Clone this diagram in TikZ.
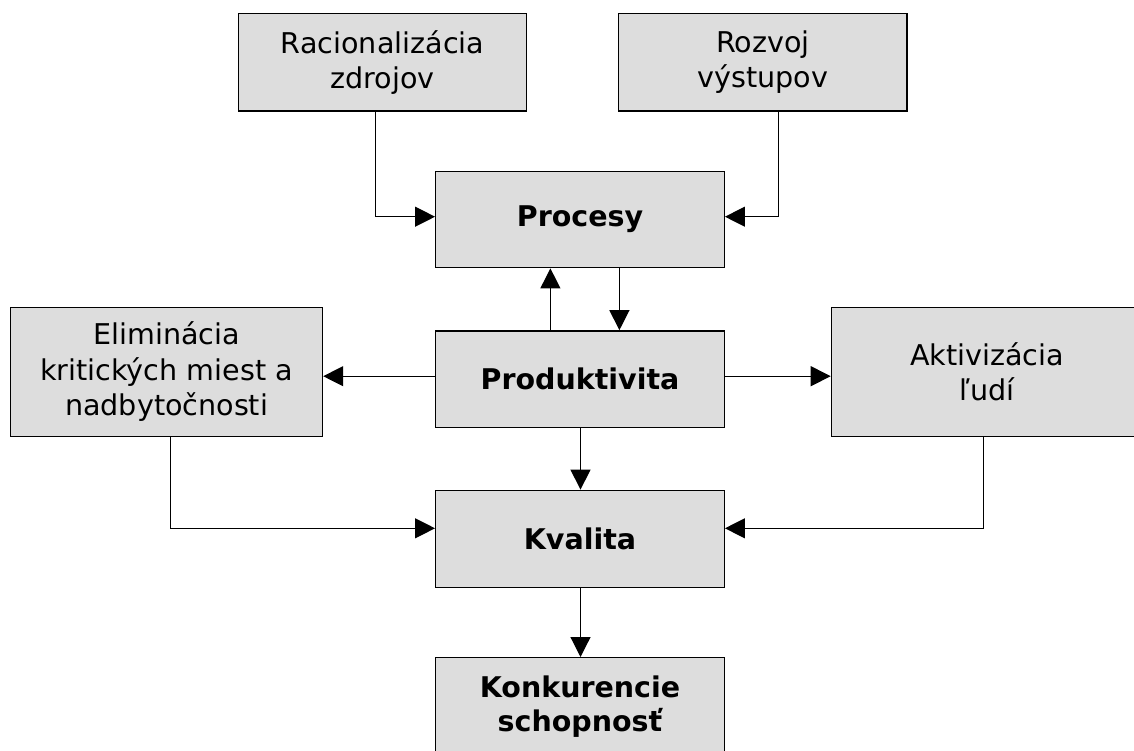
\documentclass[tikz,border=0pt]{standalone}
\usepackage{fontspec}
\setmainfont{DejaVu Sans}
\usetikzlibrary{arrows.meta}
\definecolor{boxfill}{RGB}{221,221,221}
\tikzset{
  box/.style={draw=black, line width=1.4pt, fill=boxfill, inner sep=0pt, align=center,
    font=\fontsize{28.6}{35.5}\selectfont},
  boldbox/.style={box, font=\fontsize{28.5}{34}\selectfont\bfseries},
  arr/.style={draw=black, line width=1.2pt, -{Triangle[length=20pt,width=20pt]}}
}
\begin{document}
\begin{tikzpicture}[x=1pt,y=-1pt]
\useasboundingbox (0,0) rectangle (1134,751);
\fill[white] (0,0) rectangle (1134,751);
\clip (0,0) rectangle (1134,751);
% boxes
\node[box, minimum width=288.3pt, minimum height=97.3pt] (rac) at (382.5,62.35) {Racionalizácia\\zdrojov};
\node[box, minimum width=288.3pt, minimum height=97.3pt] (roz) at (762.9,62.35) {Rozvoj\\výstupov};
\node[boldbox, minimum width=288.5pt, minimum height=96.4pt] (proc) at (580,219.5) {Procesy};
\node[boldbox, minimum width=288.5pt, minimum height=96.7pt] (prod) at (580,379.2) {Produktivita};
\node[box, minimum width=311.8pt, minimum height=129.4pt] (elim) at (166.6,372) {Eliminácia\\kritických miest a\\nadbytočnosti};
\node[box, minimum width=311.2pt, minimum height=129.4pt] (akt) at (987,372) {Aktivizácia\\ľudí};
\node[boldbox, minimum width=288.5pt, minimum height=97pt] (kval) at (580,538.8) {Kvalita};
\node[boldbox, minimum width=288.5pt, minimum height=97pt] (konk) at (580,706.2) {Konkurencie\\schopnosť};
% guide coordinates
\coordinate (vA) at (375.5,0);
\coordinate (vB) at (778.6,0);
\coordinate (vC) at (550.4,0);
\coordinate (vD) at (619.4,0);
\coordinate (vE) at (580.5,0);
\coordinate (vF) at (170.5,0);
\coordinate (vG) at (983.6,0);
\coordinate (hA) at (0,216.7);
\coordinate (hB) at (0,376.2);
\coordinate (hC) at (0,528.3);
% connectors
\draw[arr] (rac.south -| vA) |- (proc.west |- hA);
\draw[arr] (roz.south -| vB) |- (proc.east |- hA);
\draw[arr] (prod.north -| vC) -- (proc.south -| vC);
\draw[arr] (proc.south -| vD) -- (prod.north -| vD);
\draw[arr] (prod.west |- hB) -- (elim.east |- hB);
\draw[arr] (prod.east |- hB) -- (akt.west |- hB);
\draw[arr] (prod.south -| vE) -- (kval.north -| vE);
\draw[arr] (elim.south -| vF) |- (kval.west |- hC);
\draw[arr] (akt.south -| vG) |- (kval.east |- hC);
\draw[arr] (kval.south -| vE) -- (konk.north -| vE);
\end{tikzpicture}
\end{document}
